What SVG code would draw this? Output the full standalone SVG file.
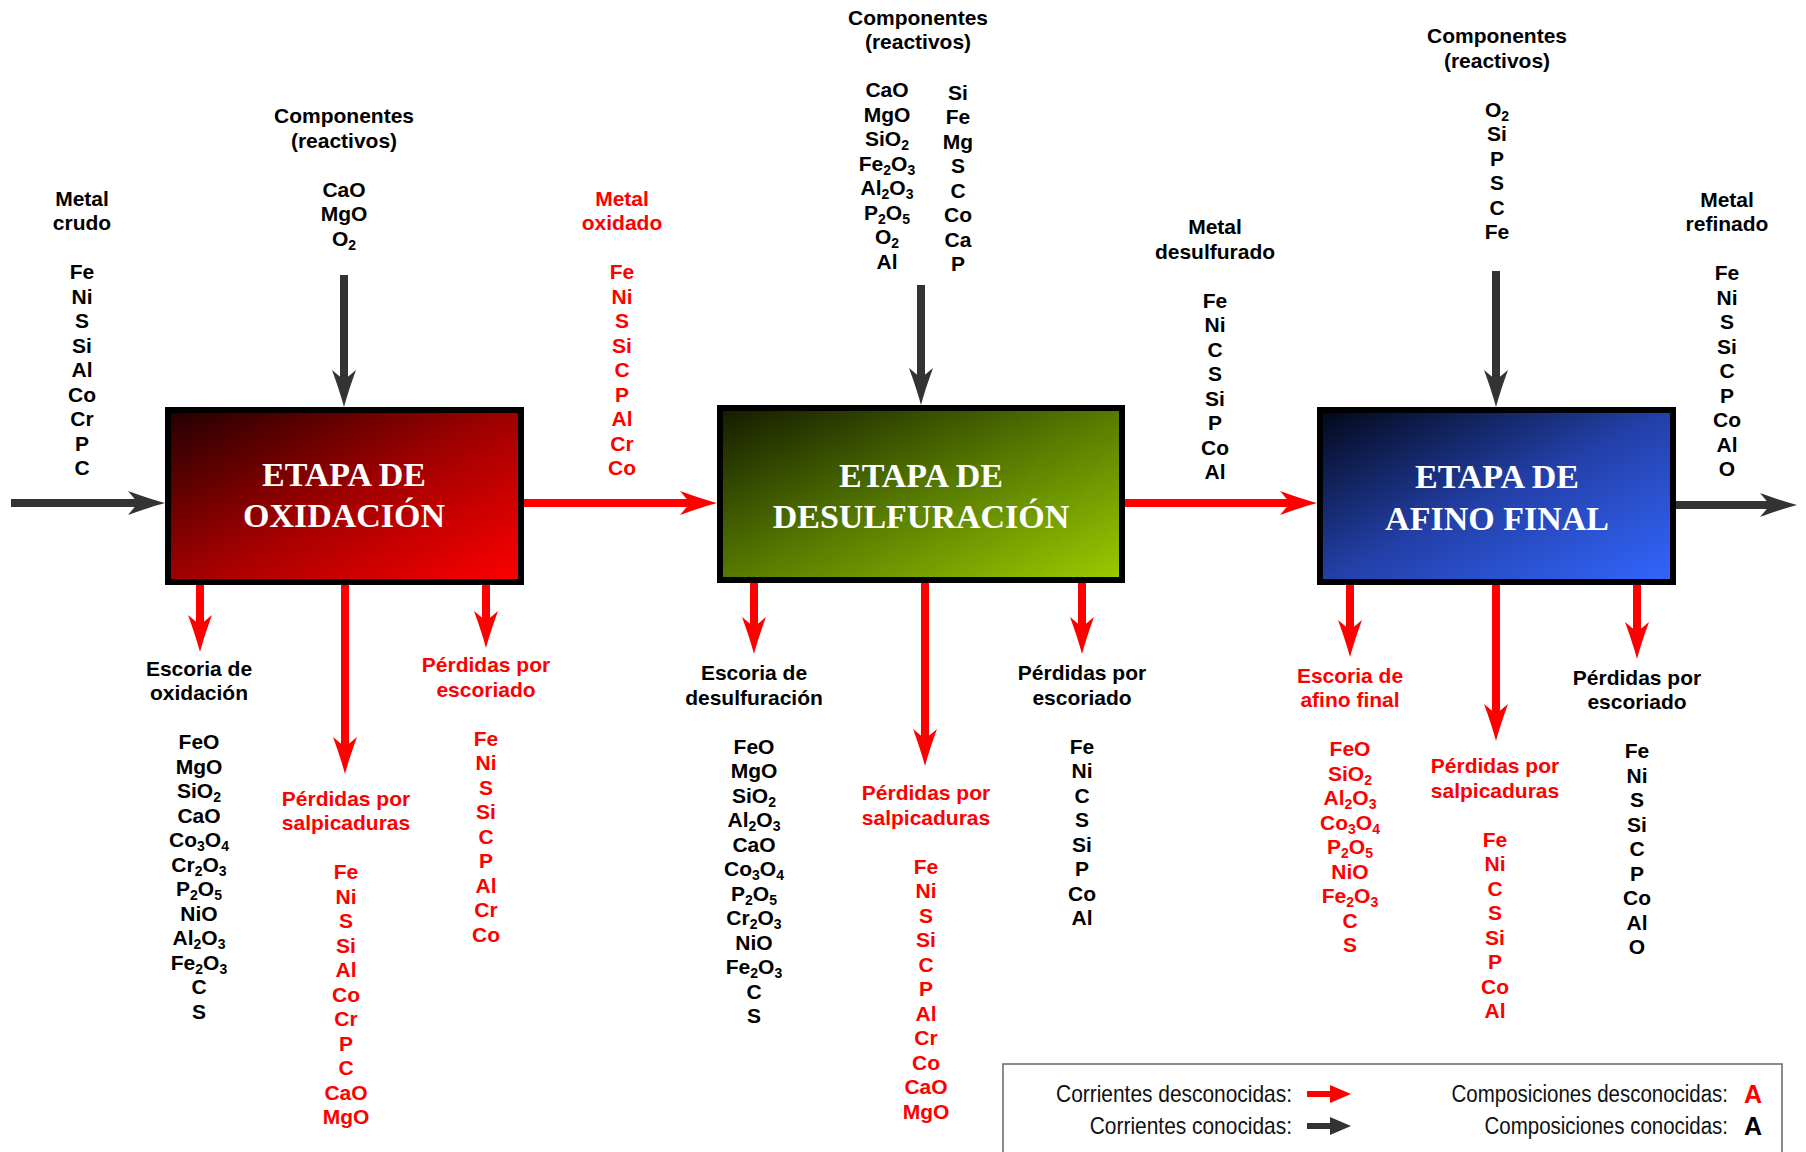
<svg xmlns="http://www.w3.org/2000/svg" width="1806" height="1152" viewBox="0 0 1806 1152">
<style>
.t{font-family:"Liberation Sans",Arial,sans-serif;font-weight:bold;font-size:21px;text-anchor:middle}
.k{fill:#000}
.r{fill:#ff0000}
.s{font-size:14px}
.title{font-family:"Liberation Serif","Times New Roman",serif;font-weight:bold;font-size:34px;fill:#fff;text-anchor:middle}
.box{stroke:#000;stroke-width:6}
.lr{stroke:#ff0000;stroke-width:8;fill:none}
.lk{stroke:#333;stroke-width:8;fill:none}
.leg{font-family:"Liberation Sans",Arial,sans-serif;font-size:23px;fill:#111;text-anchor:end}
.legA{font-family:"Liberation Sans",Arial,sans-serif;font-weight:bold;font-size:25px;text-anchor:middle}
</style>
<defs>
<linearGradient id="gRed" x1="0" y1="0" x2="1" y2="1"><stop offset="0" stop-color="#220000"/><stop offset="0.5" stop-color="#a00000"/><stop offset="1" stop-color="#ff0000"/></linearGradient>
<linearGradient id="gGreen" x1="0" y1="0" x2="1" y2="1"><stop offset="0" stop-color="#141a00"/><stop offset="0.5" stop-color="#567a00"/><stop offset="1" stop-color="#9acc00"/></linearGradient>
<linearGradient id="gBlue" x1="0" y1="0" x2="1" y2="1"><stop offset="0" stop-color="#020818"/><stop offset="0.5" stop-color="#2340a8"/><stop offset="1" stop-color="#3366ff"/></linearGradient>
<marker id="ahR" markerUnits="userSpaceOnUse" viewBox="0 -13 38 26" markerWidth="38" markerHeight="26" refX="10" refY="0" orient="auto"><path d="M0,-12 Q22,-4 37,0 Q22,4 0,12 L10,0 Z" fill="#ff0000"/></marker>
<marker id="ahK" markerUnits="userSpaceOnUse" viewBox="0 -13 38 26" markerWidth="38" markerHeight="26" refX="10" refY="0" orient="auto"><path d="M0,-12 Q22,-4 37,0 Q22,4 0,12 L10,0 Z" fill="#333"/></marker>
</defs>
<rect width="1806" height="1152" fill="#fff"/>

<g id="connectors">
<line class="lk" x1="11" y1="503" x2="138" y2="503" marker-end="url(#ahK)"/>
<line class="lr" x1="524" y1="503" x2="690" y2="503" marker-end="url(#ahR)"/>
<line class="lr" x1="1125" y1="503" x2="1290" y2="503" marker-end="url(#ahR)"/>
<line class="lk" x1="1676" y1="505" x2="1770" y2="505" marker-end="url(#ahK)"/>
<line class="lk" x1="344" y1="275" x2="344" y2="380" marker-end="url(#ahK)"/>
<line class="lk" x1="921" y1="285" x2="921" y2="378" marker-end="url(#ahK)"/>
<line class="lk" x1="1496" y1="271" x2="1496" y2="380" marker-end="url(#ahK)"/>
<line class="lr" x1="200" y1="584" x2="200" y2="625" marker-end="url(#ahR)"/>
<line class="lr" x1="345" y1="584" x2="345" y2="747" marker-end="url(#ahR)"/>
<line class="lr" x1="486" y1="584" x2="486" y2="621" marker-end="url(#ahR)"/>
<line class="lr" x1="754" y1="582" x2="754" y2="627" marker-end="url(#ahR)"/>
<line class="lr" x1="925" y1="582" x2="925" y2="739" marker-end="url(#ahR)"/>
<line class="lr" x1="1082" y1="582" x2="1082" y2="627" marker-end="url(#ahR)"/>
<line class="lr" x1="1350" y1="584" x2="1350" y2="630" marker-end="url(#ahR)"/>
<line class="lr" x1="1496" y1="584" x2="1496" y2="714" marker-end="url(#ahR)"/>
<line class="lr" x1="1637" y1="584" x2="1637" y2="632" marker-end="url(#ahR)"/>
</g>

<g id="oxidacion">
<rect class="box" x="168" y="410" width="353" height="172" fill="url(#gRed)"/>
<text class="title" x="344" y="486">ETAPA DE</text>
<text class="title" x="344" y="527">OXIDACIÓN</text>
</g>
<g id="desulfuracion">
<rect class="box" x="720" y="408" width="402" height="172" fill="url(#gGreen)"/>
<text class="title" x="921" y="487">ETAPA DE</text>
<text class="title" x="921" y="528">DESULFURACIÓN</text>
</g>
<g id="afino">
<rect class="box" x="1320" y="410" width="353" height="172" fill="url(#gBlue)"/>
<text class="title" x="1497" y="488">ETAPA DE</text>
<text class="title" x="1497" y="530">AFINO FINAL</text>
</g>

<g id="metal-crudo" class="t k">
<text x="82" y="205.6">Metal</text>
<text x="82" y="230.1">crudo</text>
<text x="82" y="279.1">Fe</text>
<text x="82" y="303.6">Ni</text>
<text x="82" y="328.1">S</text>
<text x="82" y="352.6">Si</text>
<text x="82" y="377.1">Al</text>
<text x="82" y="401.6">Co</text>
<text x="82" y="426.1">Cr</text>
<text x="82" y="450.6">P</text>
<text x="82" y="475.1">C</text>
</g>

<g id="reactivos-1" class="t k">
<text x="344" y="123">Componentes</text>
<text x="344" y="147.5">(reactivos)</text>
<text x="344" y="196.5">CaO</text>
<text x="344" y="221">MgO</text>
<text x="344" y="245.5">O<tspan class="s" dy="4">2</tspan></text>
</g>

<g id="metal-oxidado" class="t r">
<text x="622" y="205.6">Metal</text>
<text x="622" y="230.1">oxidado</text>
<text x="622" y="279.1">Fe</text>
<text x="622" y="303.6">Ni</text>
<text x="622" y="328.1">S</text>
<text x="622" y="352.6">Si</text>
<text x="622" y="377.1">C</text>
<text x="622" y="401.6">P</text>
<text x="622" y="426.1">Al</text>
<text x="622" y="450.6">Cr</text>
<text x="622" y="475.1">Co</text>
</g>

<g id="reactivos-2" class="t k">
<text x="918" y="24.8">Componentes</text>
<text x="918" y="49.3">(reactivos)</text>
<text x="887" y="97.4">CaO</text>
<text x="887" y="121.9">MgO</text>
<text x="887" y="146.4">SiO<tspan class="s" dy="4">2</tspan></text>
<text x="887" y="170.9">Fe<tspan class="s" dy="4">2</tspan><tspan dy="-4">O</tspan><tspan class="s" dy="4">3</tspan></text>
<text x="887" y="195.4">Al<tspan class="s" dy="4">2</tspan><tspan dy="-4">O</tspan><tspan class="s" dy="4">3</tspan></text>
<text x="887" y="219.9">P<tspan class="s" dy="4">2</tspan><tspan dy="-4">O</tspan><tspan class="s" dy="4">5</tspan></text>
<text x="887" y="244.4">O<tspan class="s" dy="4">2</tspan></text>
<text x="887" y="268.9">Al</text>
<text x="958" y="99.7">Si</text>
<text x="958" y="124.2">Fe</text>
<text x="958" y="148.7">Mg</text>
<text x="958" y="173.2">S</text>
<text x="958" y="197.7">C</text>
<text x="958" y="222.2">Co</text>
<text x="958" y="246.7">Ca</text>
<text x="958" y="271.2">P</text>
</g>

<g id="metal-desulfurado" class="t k">
<text x="1215" y="234.4">Metal</text>
<text x="1215" y="258.9">desulfurado</text>
<text x="1215" y="307.9">Fe</text>
<text x="1215" y="332.4">Ni</text>
<text x="1215" y="356.9">C</text>
<text x="1215" y="381.4">S</text>
<text x="1215" y="405.9">Si</text>
<text x="1215" y="430.4">P</text>
<text x="1215" y="454.9">Co</text>
<text x="1215" y="479.4">Al</text>
</g>

<g id="reactivos-3" class="t k">
<text x="1497" y="43.2">Componentes</text>
<text x="1497" y="67.7">(reactivos)</text>
<text x="1497" y="116.7">O<tspan class="s" dy="4">2</tspan></text>
<text x="1497" y="141.2">Si</text>
<text x="1497" y="165.7">P</text>
<text x="1497" y="190.2">S</text>
<text x="1497" y="214.7">C</text>
<text x="1497" y="239.2">Fe</text>
</g>

<g id="metal-refinado" class="t k">
<text x="1727" y="206.8">Metal</text>
<text x="1727" y="231.3">refinado</text>
<text x="1727" y="280.3">Fe</text>
<text x="1727" y="304.8">Ni</text>
<text x="1727" y="329.3">S</text>
<text x="1727" y="353.8">Si</text>
<text x="1727" y="378.3">C</text>
<text x="1727" y="402.8">P</text>
<text x="1727" y="427.3">Co</text>
<text x="1727" y="451.8">Al</text>
<text x="1727" y="476.3">O</text>
</g>

<g id="escoria-oxidacion" class="t k">
<text x="199" y="675.6">Escoria de</text>
<text x="199" y="700.1">oxidación</text>
<text x="199" y="749.1">FeO</text>
<text x="199" y="773.6">MgO</text>
<text x="199" y="798.1">SiO<tspan class="s" dy="4">2</tspan></text>
<text x="199" y="822.6">CaO</text>
<text x="199" y="847.1">Co<tspan class="s" dy="4">3</tspan><tspan dy="-4">O</tspan><tspan class="s" dy="4">4</tspan></text>
<text x="199" y="871.6">Cr<tspan class="s" dy="4">2</tspan><tspan dy="-4">O</tspan><tspan class="s" dy="4">3</tspan></text>
<text x="199" y="896.1">P<tspan class="s" dy="4">2</tspan><tspan dy="-4">O</tspan><tspan class="s" dy="4">5</tspan></text>
<text x="199" y="920.6">NiO</text>
<text x="199" y="945.1">Al<tspan class="s" dy="4">2</tspan><tspan dy="-4">O</tspan><tspan class="s" dy="4">3</tspan></text>
<text x="199" y="969.6">Fe<tspan class="s" dy="4">2</tspan><tspan dy="-4">O</tspan><tspan class="s" dy="4">3</tspan></text>
<text x="199" y="994.1">C</text>
<text x="199" y="1018.6">S</text>
</g>

<g id="salpicaduras-1" class="t r">
<text x="346" y="805.7">Pérdidas por</text>
<text x="346" y="830.2">salpicaduras</text>
<text x="346" y="879.2">Fe</text>
<text x="346" y="903.7">Ni</text>
<text x="346" y="928.2">S</text>
<text x="346" y="952.7">Si</text>
<text x="346" y="977.2">Al</text>
<text x="346" y="1001.7">Co</text>
<text x="346" y="1026.2">Cr</text>
<text x="346" y="1050.7">P</text>
<text x="346" y="1075.2">C</text>
<text x="346" y="1099.7">CaO</text>
<text x="346" y="1124.2">MgO</text>
</g>

<g id="escoriado-1" class="t r">
<text x="486" y="672">Pérdidas por</text>
<text x="486" y="696.5">escoriado</text>
<text x="486" y="745.5">Fe</text>
<text x="486" y="770">Ni</text>
<text x="486" y="794.5">S</text>
<text x="486" y="819">Si</text>
<text x="486" y="843.5">C</text>
<text x="486" y="868">P</text>
<text x="486" y="892.5">Al</text>
<text x="486" y="917">Cr</text>
<text x="486" y="941.5">Co</text>
</g>

<g id="escoria-desulfuracion" class="t k">
<text x="754" y="680">Escoria de</text>
<text x="754" y="704.5">desulfuración</text>
<text x="754" y="753.5">FeO</text>
<text x="754" y="778">MgO</text>
<text x="754" y="802.5">SiO<tspan class="s" dy="4">2</tspan></text>
<text x="754" y="827">Al<tspan class="s" dy="4">2</tspan><tspan dy="-4">O</tspan><tspan class="s" dy="4">3</tspan></text>
<text x="754" y="851.5">CaO</text>
<text x="754" y="876">Co<tspan class="s" dy="4">3</tspan><tspan dy="-4">O</tspan><tspan class="s" dy="4">4</tspan></text>
<text x="754" y="900.5">P<tspan class="s" dy="4">2</tspan><tspan dy="-4">O</tspan><tspan class="s" dy="4">5</tspan></text>
<text x="754" y="925">Cr<tspan class="s" dy="4">2</tspan><tspan dy="-4">O</tspan><tspan class="s" dy="4">3</tspan></text>
<text x="754" y="949.5">NiO</text>
<text x="754" y="974">Fe<tspan class="s" dy="4">2</tspan><tspan dy="-4">O</tspan><tspan class="s" dy="4">3</tspan></text>
<text x="754" y="998.5">C</text>
<text x="754" y="1023">S</text>
</g>

<g id="salpicaduras-2" class="t r">
<text x="926" y="800">Pérdidas por</text>
<text x="926" y="824.5">salpicaduras</text>
<text x="926" y="873.5">Fe</text>
<text x="926" y="898">Ni</text>
<text x="926" y="922.5">S</text>
<text x="926" y="947">Si</text>
<text x="926" y="971.5">C</text>
<text x="926" y="996">P</text>
<text x="926" y="1020.5">Al</text>
<text x="926" y="1045">Cr</text>
<text x="926" y="1069.5">Co</text>
<text x="926" y="1094">CaO</text>
<text x="926" y="1118.5">MgO</text>
</g>

<g id="escoriado-2" class="t k">
<text x="1082" y="680">Pérdidas por</text>
<text x="1082" y="704.5">escoriado</text>
<text x="1082" y="753.5">Fe</text>
<text x="1082" y="778">Ni</text>
<text x="1082" y="802.5">C</text>
<text x="1082" y="827">S</text>
<text x="1082" y="851.5">Si</text>
<text x="1082" y="876">P</text>
<text x="1082" y="900.5">Co</text>
<text x="1082" y="925">Al</text>
</g>

<g id="escoria-afino" class="t r">
<text x="1350" y="682.5">Escoria de</text>
<text x="1350" y="707">afino final</text>
<text x="1350" y="756">FeO</text>
<text x="1350" y="780.5">SiO<tspan class="s" dy="4">2</tspan></text>
<text x="1350" y="805">Al<tspan class="s" dy="4">2</tspan><tspan dy="-4">O</tspan><tspan class="s" dy="4">3</tspan></text>
<text x="1350" y="829.5">Co<tspan class="s" dy="4">3</tspan><tspan dy="-4">O</tspan><tspan class="s" dy="4">4</tspan></text>
<text x="1350" y="854">P<tspan class="s" dy="4">2</tspan><tspan dy="-4">O</tspan><tspan class="s" dy="4">5</tspan></text>
<text x="1350" y="878.5">NiO</text>
<text x="1350" y="903">Fe<tspan class="s" dy="4">2</tspan><tspan dy="-4">O</tspan><tspan class="s" dy="4">3</tspan></text>
<text x="1350" y="927.5">C</text>
<text x="1350" y="952">S</text>
</g>

<g id="salpicaduras-3" class="t r">
<text x="1495" y="773.4">Pérdidas por</text>
<text x="1495" y="797.9">salpicaduras</text>
<text x="1495" y="846.9">Fe</text>
<text x="1495" y="871.4">Ni</text>
<text x="1495" y="895.9">C</text>
<text x="1495" y="920.4">S</text>
<text x="1495" y="944.9">Si</text>
<text x="1495" y="969.4">P</text>
<text x="1495" y="993.9">Co</text>
<text x="1495" y="1018.4">Al</text>
</g>

<g id="escoriado-3" class="t k">
<text x="1637" y="684.8">Pérdidas por</text>
<text x="1637" y="709.3">escoriado</text>
<text x="1637" y="758.3">Fe</text>
<text x="1637" y="782.8">Ni</text>
<text x="1637" y="807.3">S</text>
<text x="1637" y="831.8">Si</text>
<text x="1637" y="856.3">C</text>
<text x="1637" y="880.8">P</text>
<text x="1637" y="905.3">Co</text>
<text x="1637" y="929.8">Al</text>
<text x="1637" y="954.3">O</text>
</g>

<g id="legend">
<rect x="1003" y="1064" width="779" height="100" fill="#fff" stroke="#666" stroke-width="1.5"/>
<text class="leg" transform="translate(1292,1102) scale(0.91,1)">Corrientes desconocidas:</text>
<text class="leg" transform="translate(1292,1134) scale(0.91,1)">Corrientes conocidas:</text>
<path d="M1307,1091 H1330 V1085 L1351,1094 L1330,1103 V1097 H1307 Z" fill="#ff0000"/>
<path d="M1307,1123 H1330 V1117 L1351,1126 L1330,1135 V1129 H1307 Z" fill="#333"/>
<text class="leg" transform="translate(1728,1102) scale(0.89,1)">Composiciones desconocidas:</text>
<text class="leg" transform="translate(1728,1134) scale(0.89,1)">Composiciones conocidas:</text>
<text class="legA r" x="1753" y="1103">A</text>
<text class="legA k" x="1753" y="1135">A</text>
</g>
</svg>
